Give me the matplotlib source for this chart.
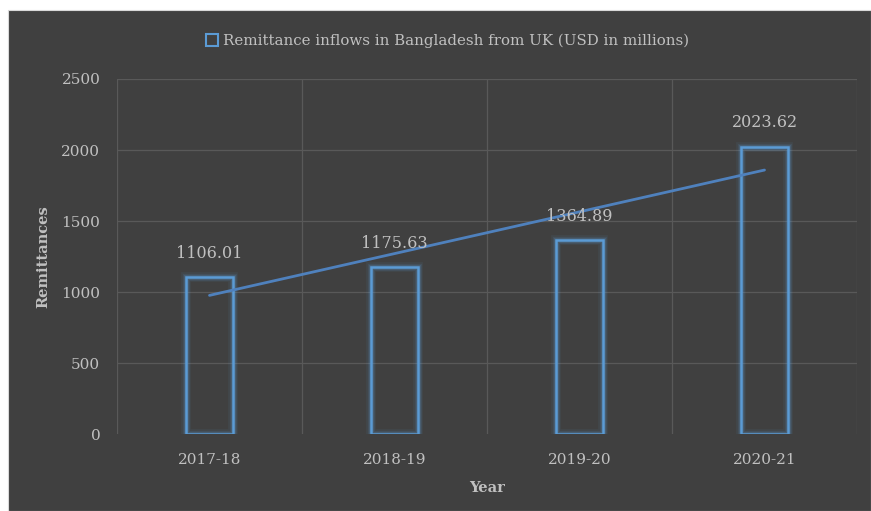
import numpy as np
import matplotlib as mpl
mpl.use('Agg')
from matplotlib import pyplot as plt
from matplotlib.lines import Line2D

years = ['2017-18', '2018-19', '2019-20', '2020-21']
remittances = [1106.01, 1175.63, 1364.89, 2023.62]
seriesName = 'Remittance inflows in Bangladesh from UK (USD in millions)'

bg = '#404040'
gridColour = '#595959'
textColour = '#c0c0c0'
barColour = '#5b9bd5'
trendColour = '#4f81bd'

mpl.rc('font', family=['DejaVu Serif'])

fig = plt.figure(figsize=(8.71, 5.11), dpi=100)
fig.patch.set_facecolor('white')
fig.patches.append(plt.Rectangle((8 / 871, 0), 863 / 871, 501 / 511, zorder=-10,
                                 transform=fig.transFigure, fc=bg, ec='#d9d9d9', lw=0.8))

axes = fig.add_axes([117 / 871, 77 / 511, 740 / 871, 355 / 511])
axes.set_facecolor('none')
for s in axes.spines.values():
    s.set_visible(False)

x = np.arange(len(years))
axes.set_xlim(-0.5, len(years) - 0.5)
axes.set_ylim(0, 2500)
axes.set_yticks(range(0, 2501, 500))
axes.set_xticks(x)
axes.set_xticklabels(years)
axes.tick_params(length=0, colors=textColour, labelsize=11, pad=14)
axes.tick_params(axis='y', pad=12)

for yv in range(500, 2501, 500):
    axes.axhline(yv, color=gridColour, lw=0.9, zorder=0)
for xv in np.arange(-0.5, len(years), 1.0):
    axes.axvline(xv, color=gridColour, lw=0.9, zorder=0)

# Bars with soft glow
for lw, alpha in [(7, 0.08), (5, 0.12), (3.5, 0.2)]:
    axes.bar(x, remittances, width=0.25, fill=False, ec=barColour, lw=lw, alpha=alpha, zorder=2)
axes.bar(x, remittances, width=0.25, fill=False, ec=barColour, lw=1.8, zorder=3)

for xi, v in zip(x, remittances):
    axes.annotate('{:.2f}'.format(v), (xi, v), xytext=(0, 11), textcoords='offset points',
                  ha='center', va='bottom', color=textColour, fontsize=11.5, zorder=5)

# Linear trendline
coef = np.polyfit(x, remittances, 1)
axes.plot(x, np.polyval(coef, x), color=trendColour, lw=2, zorder=4, solid_capstyle='round')

axes.set_ylabel('Remittances', color=textColour, fontweight='bold', fontsize=10.5, labelpad=8)
axes.set_xlabel('Year', color=textColour, fontweight='bold', fontsize=10.5, labelpad=10)

handle = Line2D([], [], ls='none', marker='s', ms=9, mfc='none', mec=barColour, mew=1.5)
fig.legend([handle], [seriesName], loc='center', bbox_to_anchor=(0.514, 1 - 41 / 511),
           frameon=False, handlelength=0.8, handletextpad=0.3, labelcolor=textColour,
           fontsize=10.8)

fig.savefig('out.png', dpi=100, facecolor='white')
